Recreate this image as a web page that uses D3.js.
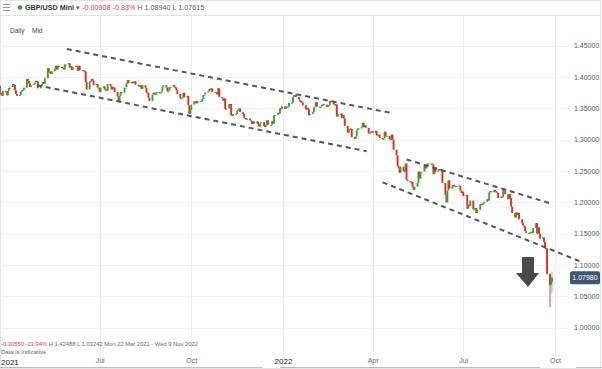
<!DOCTYPE html>
<html>
<head>
<meta charset="utf-8">
<script src="https://cdn.jsdelivr.net/npm/d3@7"></script>
<style>
  body { margin: 0; background: #fff; }
  text { font-family: "Liberation Sans", Arial, sans-serif; }
</style>
</head>
<body>
<div class="canvas"></div>
<script>
// daily closes, one line per week (Mon..Fri), from Mon 22 Mar 2021
const closes = [
  1.386, 1.375, 1.372, 1.370, 1.378,
  1.377, 1.371, 1.378, 1.383, 1.384,
  1.389, 1.387, 1.379, 1.373, 1.370,
  1.372, 1.377, 1.379, 1.379, 1.383,
  1.397, 1.394, 1.390, 1.384, 1.387,
  1.389, 1.391, 1.394, 1.393, 1.382,
  1.385, 1.389, 1.392, 1.389, 1.398,
  1.414, 1.408, 1.409, 1.405, 1.409,
  1.414, 1.418, 1.412, 1.418, 1.416,
  1.416, 1.414, 1.412, 1.420, 1.420,
  1.422, 1.415, 1.417, 1.411, 1.416,
  1.418, 1.416, 1.410, 1.418, 1.411,
  1.411, 1.410, 1.409, 1.392, 1.380,
  1.393, 1.393, 1.397, 1.394, 1.387,
  1.389, 1.383, 1.383, 1.376, 1.383,
  1.385, 1.380, 1.380, 1.378, 1.389,
  1.386, 1.380, 1.384, 1.383, 1.376,
  1.369, 1.362, 1.370, 1.376, 1.375,
  1.383, 1.384, 1.390, 1.395, 1.390,
  1.392, 1.393, 1.390, 1.393, 1.388,
  1.386, 1.384, 1.387, 1.381, 1.387,
  1.383, 1.375, 1.375, 1.367, 1.362,
  1.372, 1.375, 1.373, 1.372, 1.376,
  1.375, 1.375, 1.377, 1.384, 1.387,
  1.383, 1.377, 1.378, 1.384, 1.385,
  1.387, 1.384, 1.383, 1.379, 1.373,
  1.366, 1.367, 1.367, 1.375, 1.368,
  1.370, 1.355, 1.341, 1.347, 1.356,
  1.361, 1.362, 1.358, 1.361, 1.362,
  1.361, 1.365, 1.371, 1.372, 1.375,
  1.377, 1.381, 1.380, 1.382, 1.376,
  1.376, 1.376, 1.372, 1.382, 1.368,
  1.366, 1.362, 1.366, 1.349, 1.350,
  1.357, 1.357, 1.339, 1.338, 1.341,
  1.341, 1.346, 1.348, 1.350, 1.344,
  1.341, 1.335, 1.334, 1.332, 1.334,
  1.331, 1.330, 1.325, 1.329, 1.326,
  1.329, 1.325, 1.321, 1.326, 1.328,
  1.322, 1.321, 1.324, 1.331, 1.324,
  1.324, 1.330, 1.326, 1.339, 1.340,
  1.343, 1.342, 1.350, 1.349, 1.353,
  // 2022
  1.349, 1.353, 1.353, 1.353, 1.359,
  1.359, 1.368, 1.371, 1.372, 1.368,
  1.364, 1.361, 1.362, 1.359, 1.355,
  1.348, 1.351, 1.349, 1.339, 1.341,
  1.344, 1.351, 1.353, 1.360, 1.353,
  1.352, 1.353, 1.356, 1.357, 1.356,
  1.352, 1.355, 1.355, 1.362, 1.360,
  1.356, 1.357, 1.356, 1.337, 1.341,
  1.342, 1.335, 1.339, 1.334, 1.322,
  1.311, 1.317, 1.318, 1.317, 1.304,
  1.301, 1.305, 1.315, 1.318, 1.318,
  1.320, 1.327, 1.320, 1.323, 1.319,
  1.310, 1.311, 1.313, 1.314, 1.311,
  1.314, 1.307, 1.306, 1.308, 1.303,
  1.301, 1.302, 1.313, 1.306, 1.306,
  1.301, 1.300, 1.308, 1.300, 1.284,
  1.275, 1.258, 1.254, 1.247, 1.257,
  1.250, 1.250, 1.262, 1.236, 1.234,
  1.232, 1.233, 1.225, 1.220, 1.225,
  1.231, 1.249, 1.238, 1.248, 1.249,
  1.258, 1.254, 1.258, 1.262, 1.262,
  1.262, 1.260, 1.245, 1.256, 1.249,
  1.253, 1.253, 1.253, 1.250, 1.231,
  1.212, 1.200, 1.219, 1.235, 1.222,
  1.227, 1.228, 1.226, 1.226, 1.227,
  1.226, 1.219, 1.215, 1.217, 1.210,
  1.212, 1.190, 1.196, 1.194, 1.203,
  1.189, 1.189, 1.191, 1.183, 1.188,
  1.197, 1.198, 1.196, 1.199, 1.201,
  1.205, 1.203, 1.216, 1.218, 1.216,
  1.220, 1.218, 1.216, 1.215, 1.207,
  1.209, 1.208, 1.222, 1.221, 1.213,
  1.205, 1.213, 1.207, 1.193, 1.183,
  1.176, 1.184, 1.180, 1.183, 1.173,
  1.167, 1.163, 1.162, 1.154, 1.151,
  1.152, 1.151, 1.153, 1.151, 1.159,
  1.167, 1.150, 1.160, 1.150, 1.142,
  1.144, 1.137, 1.127, 1.126, 1.086,
  1.068, 1.073, 1.0798
];
const firstOpen = 1.384;

// notable wicks
const wicks = [
  { date: "2022-09-23", high: 1.1275, low: 1.0840 },
  { date: "2022-09-26", high: 1.0860, low: 1.0324 },
  { date: "2022-09-27", high: 1.0830, low: 1.0540 },
  { date: "2022-09-28", high: 1.0900, low: 1.0560 }
];

// hand-drawn channel lines [date, price]
const channels = [
  [["2021-05-29", 1.4447], ["2022-04-20", 1.3426]],
  [["2021-04-29", 1.3870], ["2022-03-26", 1.2815]],
  [["2022-05-05", 1.2685], ["2022-09-26", 1.1985]],
  [["2022-04-11", 1.2320], ["2022-10-26", 1.1060]]
];

const yTicks = [1.00, 1.05, 1.10, 1.15, 1.20, 1.25, 1.30, 1.35, 1.40, 1.45];
const xTicks = [["2021-07-01", "Jul"], ["2021-10-01", "Oct"], ["2022-01-01", "2022"],
                ["2022-04-01", "Apr"], ["2022-07-01", "Jul"], ["2022-10-01", "Oct"]];
const lastPrice = 1.0798;

const W = 602, H = 369;
const parse = d3.utcParse("%Y-%m-%d");

const svg = d3.select(".canvas").append("svg").attr("width", W).attr("height", H);

const x = d3.scaleUtc()
    .domain([parse("2021-03-22"), parse("2022-10-01")])
    .range([-1, 555]);
const y = d3.scaleLinear().domain([1.00, 1.45]).range([327.7, 45.7]);

// trading days
const days = d3.utcDay.range(parse("2021-03-22"), parse("2022-12-31"))
    .filter(d => d.getUTCDay() !== 0 && d.getUTCDay() !== 6)
    .slice(0, closes.length);

const candles = closes.map((c, i) => ({
    date: days[i],
    open: i === 0 ? firstOpen : closes[i - 1],
    close: c
}));

// frame
svg.append("rect").attr("x", 0.5).attr("y", 0.5).attr("width", W - 2).attr("height", H - 1)
    .attr("fill", "#fff").attr("stroke", "#e4e4e4");
svg.append("line").attr("x1", 0).attr("x2", W - 1).attr("y1", 15.5).attr("y2", 15.5)
    .attr("stroke", "#e2e2e2");

// grid
svg.append("g").selectAll("line").data(yTicks).join("line")
    .attr("x1", 0).attr("x2", 570)
    .attr("y1", d => Math.round(y(d)) + 0.5).attr("y2", d => Math.round(y(d)) + 0.5)
    .attr("stroke", "#f0f0f0");
svg.append("g").selectAll("line").data(xTicks).join("line")
    .attr("x1", d => Math.round(x(parse(d[0]))) + 0.5).attr("x2", d => Math.round(x(parse(d[0]))) + 0.5)
    .attr("y1", 16).attr("y2", 357)
    .attr("stroke", "#ececec");

// y axis labels
const yAxis = d3.axisRight(y).tickValues(yTicks).tickFormat(d3.format(".5f")).tickSize(0).tickPadding(0);
const gy = svg.append("g").attr("transform", "translate(574,0)").call(yAxis);
gy.select(".domain").remove();
gy.selectAll("text").attr("font-size", 7).attr("fill", "#555")
    .style("font-family", "'Liberation Sans', Arial, sans-serif");

// x axis labels
const gx = svg.append("g").attr("transform", "translate(0,357)")
    .call(d3.axisBottom(x).tickValues(xTicks.map(d => parse(d[0])))
        .tickFormat((d, i) => xTicks[i][1]).tickSize(0).tickPadding(1));
gx.select(".domain").remove();
gx.selectAll("text")
    .attr("font-size", (d, i) => xTicks[i][1] === "2022" ? 8 : 7)
    .attr("fill", (d, i) => xTicks[i][1] === "2022" ? "#222" : "#666")
    .style("font-family", "'Liberation Sans', Arial, sans-serif");
svg.append("text").attr("x", 1).attr("y", 365).text("2021")
    .attr("font-size", 8).attr("fill", "#222");

// bottom navigator line
svg.append("line").attr("x1", 0).attr("x2", 262).attr("y1", 367.5).attr("y2", 367.5).attr("stroke", "#bbb");
svg.append("line").attr("x1", 280).attr("x2", 540).attr("y1", 367.5).attr("y2", 367.5).attr("stroke", "#bbb");
svg.append("line").attr("x1", 576).attr("x2", W).attr("y1", 367.5).attr("y2", 367.5).attr("stroke", "#bbb");

// wicks of notable days
svg.append("g").selectAll("line").data(wicks).join("line")
    .attr("x1", d => x(parse(d.date))).attr("x2", d => x(parse(d.date)))
    .attr("y1", d => y(d.high)).attr("y2", d => y(d.low))
    .attr("stroke", (d, i) => i === 1 ? "#e8403a" : "#7fd07f")
    .attr("stroke-width", 1);

// candle bodies
svg.append("g").selectAll("line").data(candles).join("line")
    .attr("x1", d => x(d.date)).attr("x2", d => x(d.date))
    .attr("y1", d => y(d.open))
    .attr("y2", d => Math.abs(y(d.close) - y(d.open)) < 1 ? y(d.open) + 1 : y(d.close))
    .attr("stroke", d => d.close >= d.open ? "#2fa82f" : "#e62a22")
    .attr("stroke-width", 1.9);

// channel lines
const line = d3.line().x(d => x(parse(d[0]))).y(d => y(d[1]));
svg.append("g").selectAll("path").data(channels).join("path")
    .attr("d", line)
    .attr("fill", "none")
    .attr("stroke", "#555")
    .attr("stroke-width", 2)
    .attr("stroke-dasharray", "5,4");

// down arrow
svg.append("path")
    .attr("d", "M522,257 L534,257 L534,273 L539,273 L528,287 L516,273 L522,273 Z")
    .attr("fill", "#4a4a4a");

// last price label
svg.append("rect").attr("x", 570).attr("y", y(lastPrice) - 6.5).attr("width", 30).attr("height", 13)
    .attr("rx", 2).attr("fill", "#3e5672");
svg.append("text").attr("x", 585).attr("y", y(lastPrice) + 2.5).attr("text-anchor", "middle")
    .attr("font-size", 7).attr("fill", "#fff").text(d3.format(".5f")(lastPrice));

// header
[4, 7, 10].forEach(v => svg.append("line").attr("x1", 3).attr("x2", 10)
    .attr("y1", v + 0.5).attr("y2", v + 0.5).attr("stroke", "#999"));
svg.append("circle").attr("cx", 20).attr("cy", 7.5).attr("r", 2.3).attr("fill", "#2aa52a");
const head = svg.append("text").attr("x", 25).attr("y", 10).attr("font-size", 7.2);
head.append("tspan").text("GBP/USD Mini").attr("fill", "#333").attr("font-weight", "bold");
head.append("tspan").text(" \u25BE ").attr("fill", "#555");
head.append("tspan").text(" -0.00908  -0.83%").attr("fill", "#d9413c");
head.append("tspan").text(" H 1.08940  L 1.07615").attr("fill", "#555");

svg.append("text").attr("x", 10).attr("y", 33).attr("font-size", 6.5).attr("fill", "#444").text("Daily");
svg.append("text").attr("x", 32).attr("y", 33).attr("font-size", 6.5).attr("fill", "#444").text("Mid");

// footer
const foot = svg.append("text").attr("x", 1).attr("y", 346).attr("font-size", 5.8);
foot.append("tspan").text("-0.30550   -21.94%").attr("fill", "#d9413c");
foot.append("tspan").text("   H 1.42488   L 1.03242   Mon 22 Mar 2021 - Wed 9 Nov 2022").attr("fill", "#666");
svg.append("text").attr("x", 1).attr("y", 354).attr("font-size", 6).attr("fill", "#666").text("Data is indicative");
</script>
</body>
</html>
